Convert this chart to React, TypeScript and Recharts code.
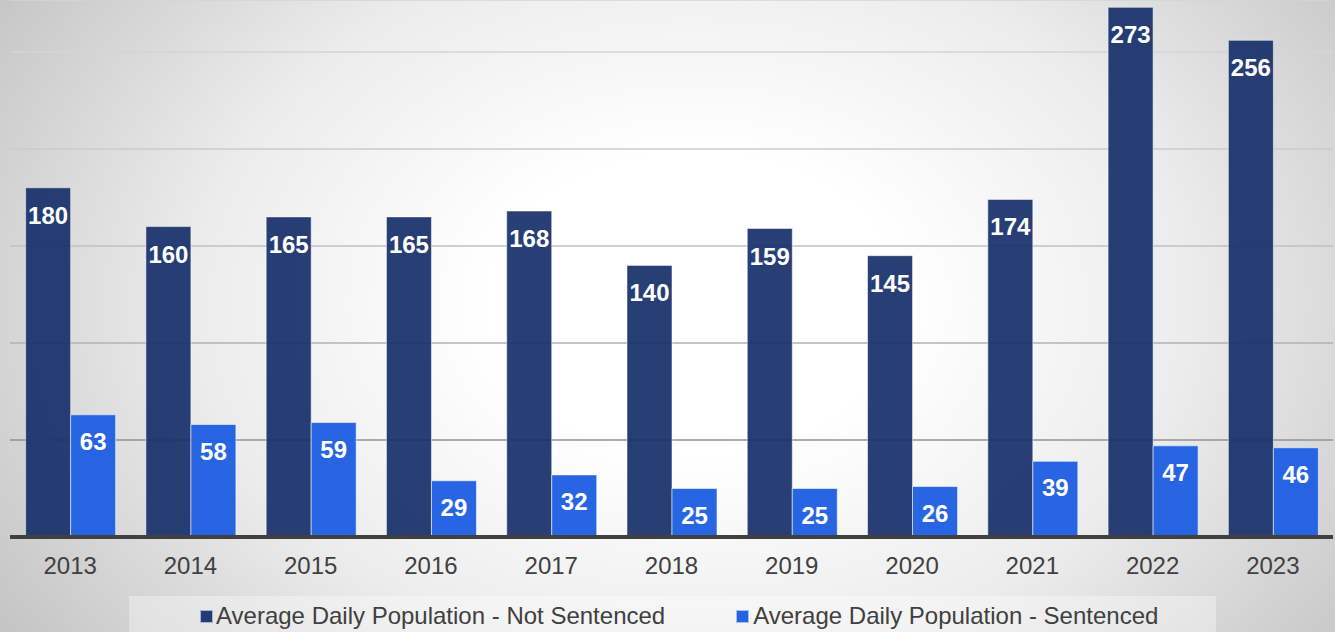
import React from 'react';
import { BarChart, Bar, XAxis, YAxis, CartesianGrid, LabelList, Legend } from 'recharts';

const years = ['2013', '2014', '2015', '2016', '2017', '2018', '2019', '2020', '2021', '2022', '2023'];
const notSentenced = [180, 160, 165, 165, 168, 140, 159, 145, 174, 273, 256];
const sentenced = [63, 58, 59, 29, 32, 25, 25, 26, 39, 47, 46];
const gridValues = [50, 100, 150, 200, 250];
const seriesNames = ['Average Daily Population - Not Sentenced', 'Average Daily Population - Sentenced'];

const data = years.map((year, i) => ({ year, notSentenced: notSentenced[i], sentenced: sentenced[i] }));

const FONT = '"Liberation Sans", Arial, sans-serif';
const DARK = '#17306a';
const LIGHT = '#1f5fe2';
const gridColors = ['#929292', '#b2b2b2', '#c0c0c0', '#cbcbcb', '#d5d5d5'];

const GridLine = (props: any) => {
  const { x1, x2, y1, y2, y } = props;
  const yy = y1 ?? y;
  let idx = Math.round((537 - yy) / 97) - 1;
  if (idx < 0) idx = 0;
  if (idx > gridColors.length - 1) idx = gridColors.length - 1;
  return <line x1={x1} x2={x2} y1={yy} y2={y2 ?? yy} stroke={gridColors[idx]} strokeWidth={1.6} />;
};

const LegendContent = () => (
  <div
    style={{
      width: 1087,
      height: 36,
      background: 'rgba(255,255,255,0.35)',
      display: 'flex',
      alignItems: 'center',
      paddingLeft: 71,
      boxSizing: 'border-box',
      fontFamily: FONT,
      fontSize: 24,
      color: '#404040',
      paddingTop: 4,
    }}
  >
    <span style={{ display: 'inline-block', width: 11, height: 11, background: '#233d73', border: '1px solid #a8b4cc', marginRight: 3 }} />
    <span>{seriesNames[0]}</span>
    <span style={{ display: 'inline-block', width: 11, height: 11, background: '#2563e3', border: '1px solid #a8c0f0', marginLeft: 71, marginRight: 4 }} />
    <span>{seriesNames[1]}</span>
  </div>
);

export default function App() {
  return (
    <div
      style={{
        position: 'absolute',
        left: 0,
        top: 0,
        width: 1335,
        height: 632,
        background: 'radial-gradient(ellipse 62% 95% at 52% 48%, #ffffff 25%, #ececec 60%, #c4c4c4 100%)',
        overflow: 'hidden',
      }}
    >
      <BarChart
        width={1335}
        height={632}
        data={data}
        margin={{ top: 0, right: 2, left: 10, bottom: 0 }}
        barCategoryGap="13%"
        barGap={0}
      >
        <YAxis hide domain={[0, 276.8]} ticks={gridValues} />
        <CartesianGrid vertical={false} horizontal={(p: any) => <GridLine {...p} />} />
        <XAxis
          dataKey="year"
          height={59}
          axisLine={{ stroke: '#404040', strokeWidth: 4 }}
          tickLine={false}
          tickMargin={14}
          tick={{ fontSize: 24, fill: '#404040', fontFamily: FONT }}
          interval={0}
        />
        <Legend verticalAlign="bottom" content={<LegendContent />} wrapperStyle={{ top: 596, left: 129, width: 1087, height: 36 }} />
        <Bar dataKey="notSentenced" name={seriesNames[0]} fill={DARK} fillOpacity={0.93} stroke="rgba(255,255,255,0.5)" strokeWidth={1} isAnimationActive={false}>
          <LabelList dataKey="notSentenced" position="insideTop" offset={19} fill="#ffffff" fontSize={24} fontWeight="bold" fontFamily={FONT} />
        </Bar>
        <Bar dataKey="sentenced" name={seriesNames[1]} fill={LIGHT} fillOpacity={0.96} stroke="rgba(255,255,255,0.55)" strokeWidth={1} isAnimationActive={false}>
          <LabelList dataKey="sentenced" position="insideTop" offset={18} fill="#ffffff" fontSize={24} fontWeight="bold" fontFamily={FONT} />
        </Bar>
      </BarChart>
    </div>
  );
}
